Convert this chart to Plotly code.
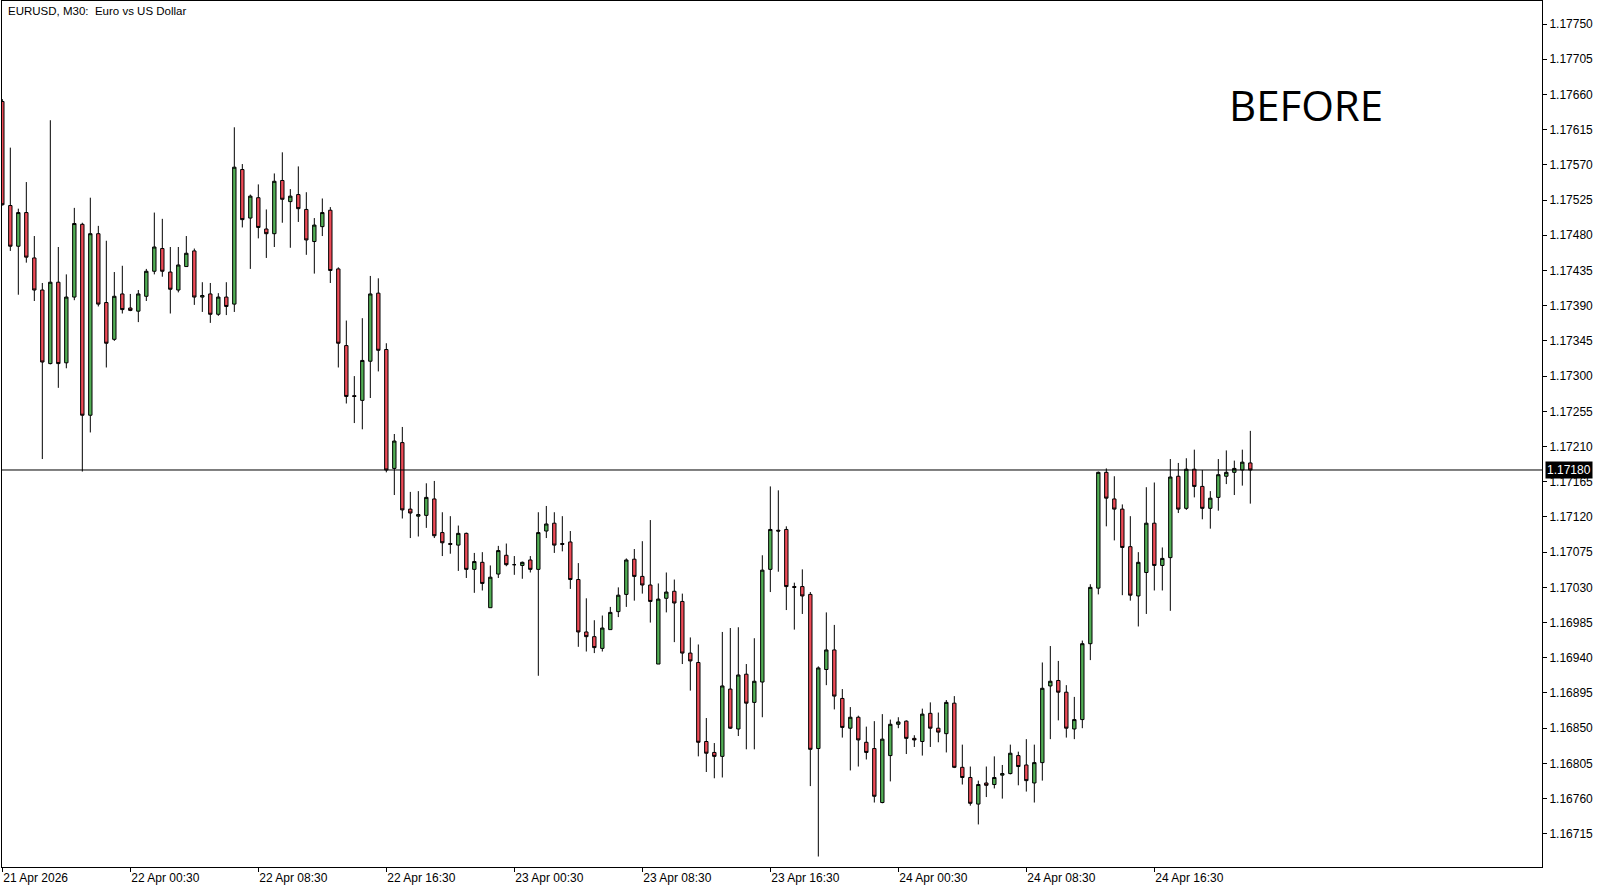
import plotly.graph_objects as go

# ---- data (EURUSD M30) ----
opens = [1.17651, 1.17518, 1.17466, 1.17509, 1.17451, 1.17410, 1.17316, 1.17420, 1.17317, 1.17401,
         1.17494, 1.17250, 1.17482, 1.17394, 1.17347, 1.17405, 1.17387, 1.17383, 1.17402, 1.17434,
         1.17463, 1.17433, 1.17410, 1.17440, 1.17460, 1.17401, 1.17405, 1.17379, 1.17401, 1.17392,
         1.17564, 1.17502, 1.17528, 1.17488, 1.17482, 1.17550, 1.17523, 1.17532, 1.17513, 1.17472,
         1.17491, 1.17512, 1.17437, 1.17339, 1.17275, 1.17269, 1.17319, 1.17406, 1.17334, 1.17182,
         1.17215, 1.17130, 1.17121, 1.17122, 1.17143, 1.17100, 1.17086, 1.17084, 1.17099, 1.17053,
         1.17062, 1.17004, 1.17047, 1.17071, 1.17059, 1.17058, 1.17065, 1.17053, 1.17102, 1.17112,
         1.17086, 1.17088, 1.17040, 1.16973, 1.16967, 1.16952, 1.16976, 1.16999, 1.17021, 1.17066,
         1.17044, 1.17033, 1.16932, 1.17016, 1.17025, 1.17012, 1.16946, 1.16934, 1.16833, 1.16819,
         1.16814, 1.16900, 1.16849, 1.16919, 1.16883, 1.16909, 1.17053, 1.17103, 1.17104, 1.17031,
         1.17031, 1.17021, 1.16824, 1.16925, 1.16950, 1.16888, 1.16850, 1.16864, 1.16832, 1.16824,
         1.16755, 1.16815, 1.16855, 1.16859, 1.16837, 1.16833, 1.16869, 1.16850, 1.16843, 1.16882,
         1.16800, 1.16787, 1.16753, 1.16780, 1.16778, 1.16790, 1.16792, 1.16815, 1.16803, 1.16780,
         1.16806, 1.16904, 1.16911, 1.16896, 1.16849, 1.16861, 1.16958, 1.17029, 1.17177, 1.17143,
         1.17130, 1.17082, 1.17019, 1.17049, 1.17112, 1.17058, 1.17068, 1.17172, 1.17131, 1.17181,
         1.17159, 1.17131, 1.17145, 1.17172, 1.17177, 1.17180, 1.17189]

highs = [1.17654, 1.17592, 1.17514, 1.17548, 1.17479, 1.17419, 1.17627, 1.17465, 1.17430, 1.17515,
         1.17496, 1.17528, 1.17492, 1.17473, 1.17433, 1.17441, 1.17405, 1.17410, 1.17437, 1.17509,
         1.17501, 1.17465, 1.17465, 1.17479, 1.17463, 1.17420, 1.17419, 1.17406, 1.17420, 1.17618,
         1.17571, 1.17532, 1.17545, 1.17513, 1.17559, 1.17586, 1.17539, 1.17568, 1.17535, 1.17502,
         1.17527, 1.17516, 1.17439, 1.17371, 1.17300, 1.17374, 1.17428, 1.17425, 1.17342, 1.17226,
         1.17235, 1.17152, 1.17153, 1.17163, 1.17166, 1.17126, 1.17121, 1.17109, 1.17100, 1.17074,
         1.17075, 1.17058, 1.17083, 1.17086, 1.17070, 1.17063, 1.17070, 1.17126, 1.17134, 1.17126,
         1.17121, 1.17102, 1.17061, 1.17016, 1.16988, 1.16994, 1.17005, 1.17030, 1.17067, 1.17079,
         1.17089, 1.17116, 1.17035, 1.17049, 1.17040, 1.17022, 1.16966, 1.16957, 1.16863, 1.16831,
         1.16973, 1.16978, 1.16979, 1.16932, 1.16965, 1.17071, 1.17159, 1.17154, 1.17108, 1.17036,
         1.17053, 1.17024, 1.16929, 1.16998, 1.16982, 1.16900, 1.16877, 1.16866, 1.16852, 1.16859,
         1.16868, 1.16861, 1.16864, 1.16860, 1.16841, 1.16875, 1.16883, 1.16870, 1.16886, 1.16891,
         1.16829, 1.16801, 1.16783, 1.16801, 1.16814, 1.16803, 1.16829, 1.16820, 1.16836, 1.16829,
         1.16934, 1.16955, 1.16936, 1.16905, 1.16890, 1.16962, 1.17034, 1.17178, 1.17182, 1.17172,
         1.17136, 1.17121, 1.17075, 1.17158, 1.17164, 1.17081, 1.17194, 1.17189, 1.17195, 1.17206,
         1.17180, 1.17153, 1.17194, 1.17205, 1.17192, 1.17206, 1.17230]

lows = [1.17518, 1.17460, 1.17404, 1.17445, 1.17396, 1.17194, 1.17315, 1.17285, 1.17310, 1.17397,
        1.17178, 1.17228, 1.17389, 1.17311, 1.17345, 1.17380, 1.17383, 1.17369, 1.17396, 1.17430,
        1.17427, 1.17380, 1.17407, 1.17440, 1.17391, 1.17382, 1.17368, 1.17377, 1.17378, 1.17382,
        1.17490, 1.17437, 1.17476, 1.17451, 1.17465, 1.17496, 1.17464, 1.17497, 1.17455, 1.17431,
        1.17479, 1.17419, 1.17311, 1.17265, 1.17240, 1.17232, 1.17272, 1.17306, 1.17177, 1.17148,
        1.17118, 1.17093, 1.17095, 1.17106, 1.17093, 1.17070, 1.17073, 1.17051, 1.17042, 1.17023,
        1.17026, 1.17004, 1.17042, 1.17057, 1.17046, 1.17041, 1.17049, 1.16917, 1.17093, 1.17074,
        1.17076, 1.17028, 1.16954, 1.16948, 1.16946, 1.16948, 1.16976, 1.16992, 1.17005, 1.17013,
        1.17022, 1.16985, 1.16932, 1.16998, 1.16960, 1.16932, 1.16898, 1.16814, 1.16794, 1.16786,
        1.16787, 1.16849, 1.16840, 1.16823, 1.16823, 1.16864, 1.17024, 1.17050, 1.17001, 1.16976,
        1.16996, 1.16776, 1.16686, 1.16905, 1.16874, 1.16838, 1.16796, 1.16801, 1.16810, 1.16755,
        1.16754, 1.16782, 1.16850, 1.16817, 1.16826, 1.16815, 1.16826, 1.16832, 1.16819, 1.16799,
        1.16778, 1.16751, 1.16727, 1.16762, 1.16773, 1.16760, 1.16791, 1.16777, 1.16769, 1.16755,
        1.16783, 1.16836, 1.16860, 1.16838, 1.16836, 1.16850, 1.16937, 1.17021, 1.17108, 1.17090,
        1.17020, 1.17013, 1.16980, 1.16996, 1.17026, 1.17026, 1.17000, 1.17125, 1.17129, 1.17145,
        1.17117, 1.17105, 1.17128, 1.17162, 1.17148, 1.17160, 1.17137]

closes = [1.17519, 1.17466, 1.17509, 1.17452, 1.17410, 1.17318, 1.17420, 1.17316, 1.17401, 1.17495,
          1.17250, 1.17482, 1.17392, 1.17342, 1.17402, 1.17385, 1.17384, 1.17405, 1.17434, 1.17465,
          1.17434, 1.17411, 1.17442, 1.17457, 1.17401, 1.17403, 1.17379, 1.17401, 1.17389, 1.17567,
          1.17500, 1.17530, 1.17490, 1.17482, 1.17549, 1.17526, 1.17530, 1.17514, 1.17474, 1.17493,
          1.17509, 1.17435, 1.17342, 1.17274, 1.17274, 1.17320, 1.17405, 1.17333, 1.17180, 1.17217,
          1.17129, 1.17125, 1.17123, 1.17145, 1.17096, 1.17087, 1.17085, 1.17099, 1.17053, 1.17063,
          1.17035, 1.17043, 1.17077, 1.17059, 1.17059, 1.17062, 1.17053, 1.17100, 1.17111, 1.17084,
          1.17085, 1.17040, 1.16973, 1.16967, 1.16953, 1.16978, 1.16998, 1.17020, 1.17065, 1.17044,
          1.17033, 1.17012, 1.17015, 1.17024, 1.17010, 1.16946, 1.16936, 1.16832, 1.16818, 1.16814,
          1.16904, 1.16850, 1.16918, 1.16882, 1.16910, 1.17052, 1.17104, 1.17102, 1.17031, 1.17030,
          1.17019, 1.16823, 1.16927, 1.16950, 1.16891, 1.16851, 1.16864, 1.16835, 1.16819, 1.16763,
          1.16836, 1.16855, 1.16858, 1.16837, 1.16835, 1.16868, 1.16850, 1.16845, 1.16883, 1.16800,
          1.16787, 1.16754, 1.16778, 1.16777, 1.16787, 1.16792, 1.16818, 1.16801, 1.16783, 1.16806,
          1.16901, 1.16910, 1.16896, 1.16850, 1.16861, 1.16958, 1.17030, 1.17177, 1.17144, 1.17130,
          1.17081, 1.17020, 1.17062, 1.17112, 1.17058, 1.17067, 1.17171, 1.17130, 1.17181, 1.17159,
          1.17131, 1.17144, 1.17174, 1.17177, 1.17182, 1.17190, 1.17180]

x_tick_bars = [0, 16, 32, 48, 64, 80, 96, 112, 128, 144]
x_tick_labels = ["21 Apr 2026", "22 Apr 00:30", "22 Apr 08:30", "22 Apr 16:30", "23 Apr 00:30",
                 "23 Apr 08:30", "23 Apr 16:30", "24 Apr 00:30", "24 Apr 08:30", "24 Apr 16:30"]

y_ticks = [1.16715, 1.16760, 1.16805, 1.16850, 1.16895, 1.16940, 1.16985, 1.17030, 1.17075,
           1.17120, 1.17165, 1.17210, 1.17255, 1.17300, 1.17345, 1.17390, 1.17435, 1.17480,
           1.17525, 1.17570, 1.17615, 1.17660, 1.17705, 1.17750]

current_price = 1.17180
title_text = "EURUSD, M30:  Euro vs US Dollar"
stamp_text = "BEFORE"

GREEN = "#52AE55"
RED = "#EE4B57"
FONT = "Liberation Sans"

bars = list(range(len(opens)))

fig = go.Figure(go.Candlestick(
    x=bars, open=opens, high=highs, low=lows, close=closes,
    increasing=dict(line=dict(color="black", width=1), fillcolor=GREEN),
    decreasing=dict(line=dict(color="black", width=1), fillcolor=RED),
    whiskerwidth=0, hoverinfo="skip", showlegend=False,
))

fig.add_shape(type="line", xref="paper", x0=0, x1=1, yref="y",
              y0=current_price, y1=current_price,
              line=dict(color="black", width=1), layer="above")

fig.add_annotation(xref="paper", x=1, xanchor="left", xshift=3,
                   yref="y", y=current_price, yanchor="middle",
                   text=f"{current_price:.5f}", showarrow=False,
                   bgcolor="black", borderpad=1,
                   font=dict(family=FONT, size=12, color="white"))

fig.add_annotation(xref="paper", x=0, xanchor="left", xshift=4,
                   yref="paper", y=1, yanchor="top", yshift=-2,
                   text=title_text, showarrow=False,
                   font=dict(family=FONT, size=11.5, color="black"))

fig.add_annotation(xref="paper", x=0.8468, xanchor="center",
                   yref="paper", y=0.88, yanchor="middle",
                   text=stamp_text, showarrow=False,
                   font=dict(family="Open Sans", size=42, color="black"))

fig.update_layout(
    width=1612, height=891,
    margin=dict(l=2, r=70, t=1, b=24),
    paper_bgcolor="white", plot_bgcolor="white",
    boxgap=0.4,
    showlegend=False,
    xaxis=dict(
        range=[-0.04, 192.46],
        tickmode="array", tickvals=x_tick_bars, ticktext=x_tick_labels,
        ticks="outside", ticklen=4, tickcolor="black", tickwidth=1,
        ticklabelposition="outside right",
        tickfont=dict(family=FONT, size=12, color="black"),
        showgrid=False, zeroline=False,
        showline=True, linecolor="black", linewidth=1, mirror=True,
        rangeslider=dict(visible=False),
        fixedrange=True,
    ),
    yaxis=dict(
        side="right",
        range=[1.166726, 1.177794],
        tickmode="array", tickvals=y_ticks,
        ticktext=[f"{v:.5f}" for v in y_ticks],
        ticks="outside", ticklen=4, tickcolor="black", tickwidth=1,
        tickfont=dict(family=FONT, size=12, color="black"),
        showgrid=False, zeroline=False,
        showline=True, linecolor="black", linewidth=1, mirror=True,
        fixedrange=True,
    ),
)

fig.write_html("out.html",
               config={"displayModeBar": False},
               post_script="document.body.style.margin='0';document.body.style.overflow='hidden';")
